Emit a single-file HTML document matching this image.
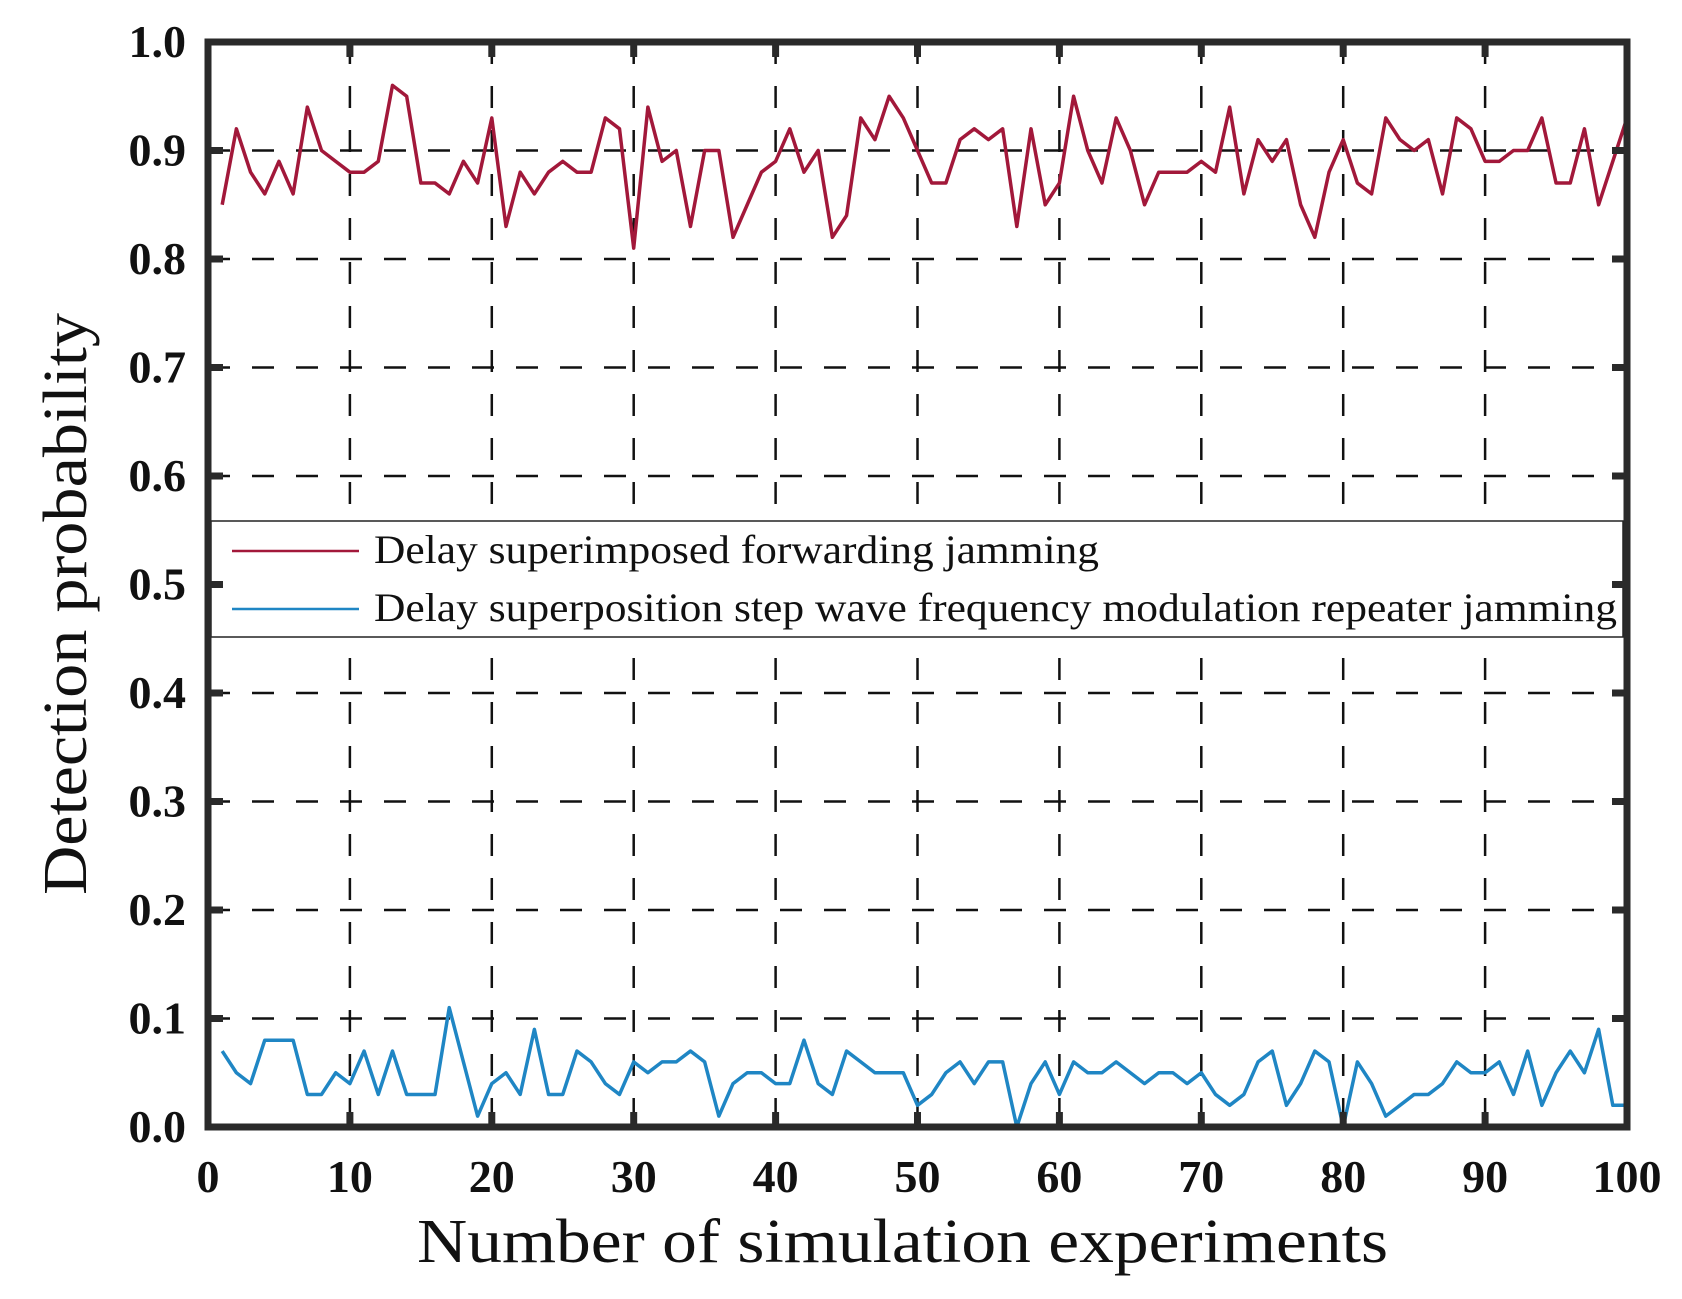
<!DOCTYPE html>
<html><head><meta charset="utf-8"><style>
html,body{margin:0;padding:0;background:#fff;}
svg{display:block;}
</style></head><body>
<svg id="chart" width="1682" height="1299" viewBox="0 0 1682 1299" xmlns="http://www.w3.org/2000/svg"></svg>
<script>
const xTicks=[0,10,20,30,40,50,60,70,80,90,100];
const yTicks=[0,0.1,0.2,0.3,0.4,0.5,0.6,0.7,0.8,0.9,1.0];
const yTickLabels=["0.0","0.1","0.2","0.3","0.4","0.5","0.6","0.7","0.8","0.9","1.0"];
const seriesNames=["Delay superimposed forwarding jamming","Delay superposition step wave frequency modulation repeater jamming"];
const redValues=[0.85,0.92,0.88,0.86,0.89,0.86,0.94,0.90,0.89,0.88,0.88,0.89,0.96,0.95,0.87,0.87,0.86,0.89,0.87,0.93,0.83,0.88,0.86,0.88,0.89,0.88,0.88,0.93,0.92,0.81,0.94,0.89,0.90,0.83,0.90,0.90,0.82,0.85,0.88,0.89,0.92,0.88,0.90,0.82,0.84,0.93,0.91,0.95,0.93,0.90,0.87,0.87,0.91,0.92,0.91,0.92,0.83,0.92,0.85,0.87,0.95,0.90,0.87,0.93,0.90,0.85,0.88,0.88,0.88,0.89,0.88,0.94,0.86,0.91,0.89,0.91,0.85,0.82,0.88,0.91,0.87,0.86,0.93,0.91,0.90,0.91,0.86,0.93,0.92,0.89,0.89,0.90,0.90,0.93,0.87,0.87,0.92,0.85,0.89,0.93];
const blueValues=[0.07,0.05,0.04,0.08,0.08,0.08,0.03,0.03,0.05,0.04,0.07,0.03,0.07,0.03,0.03,0.03,0.11,0.06,0.01,0.04,0.05,0.03,0.09,0.03,0.03,0.07,0.06,0.04,0.03,0.06,0.05,0.06,0.06,0.07,0.06,0.01,0.04,0.05,0.05,0.04,0.04,0.08,0.04,0.03,0.07,0.06,0.05,0.05,0.05,0.02,0.03,0.05,0.06,0.04,0.06,0.06,0.00,0.04,0.06,0.03,0.06,0.05,0.05,0.06,0.05,0.04,0.05,0.05,0.04,0.05,0.03,0.02,0.03,0.06,0.07,0.02,0.04,0.07,0.06,0.00,0.06,0.04,0.01,0.02,0.03,0.03,0.04,0.06,0.05,0.05,0.06,0.03,0.07,0.02,0.05,0.07,0.05,0.09,0.02,0.02];

const NS="http://www.w3.org/2000/svg";
const svg=document.getElementById('chart');
const L=208,R=1627,T=42,B=1127;
const xs=v=>L+(v-0)/(100-0)*(R-L);
const ys=v=>B-(v-0)/(1-0)*(B-T);
function mk(tag,attrs,parent){const e=document.createElementNS(NS,tag);for(const k in attrs)e.setAttribute(k,attrs[k]);(parent||svg).appendChild(e);return e;}

const grid=mk('g',{});


xTicks.slice(1,-1).forEach(t=>{const l=mk('line',{x1:xs(t),x2:xs(t),y1:T,y2:B,stroke:'#111','stroke-width':2.5,'stroke-dasharray':'22,22'},grid);

});
yTicks.slice(1,-1).forEach(t=>{const l=mk('line',{x1:L,x2:R,y1:ys(t),y2:ys(t),stroke:'#111','stroke-width':2.5,'stroke-dasharray':'22,22'},grid);

});

function series(vals,color,name){const p=mk('polyline',{points:vals.map((v,i)=>xs(i+1)+','+ys(v)).join(' '),fill:'none',stroke:color,'stroke-width':3.5,'stroke-linejoin':'round'});

}
series(redValues,'#a2183a','series-delay-forwarding');
series(blueValues,'#1f86c4','series-step-wave-fm');

// legend
const lg=mk('g',{});


mk('rect',{x:211,y:521,width:1412,height:116,fill:'#fff',stroke:'#222','stroke-width':1.5},lg);
const lc=['#a2183a','#1f86c4'],ly=[551,609],lw=[725,1243];
seriesNames.forEach((n,i)=>{const ln=mk('line',{x1:232,x2:359,y1:ly[i],y2:ly[i],stroke:lc[i],'stroke-width':2.5},lg);


const tx=mk('text',{x:374,y:ly[i]+12,'font-family':'Liberation Serif, serif','font-size':40,fill:'#111',textLength:lw[i],lengthAdjust:'spacingAndGlyphs'},lg);tx.textContent=n;

});

// frame and ticks
const fr=mk('rect',{x:L,y:T,width:R-L,height:B-T,fill:'none',stroke:'#2a2a2a','stroke-width':7});


xTicks.forEach(t=>{mk('line',{x1:xs(t),x2:xs(t),y1:B,y2:B-15,stroke:'#2a2a2a','stroke-width':7});mk('line',{x1:xs(t),x2:xs(t),y1:T,y2:T+15,stroke:'#2a2a2a','stroke-width':7});
const tx=mk('text',{x:xs(t),y:1192,'text-anchor':'middle','font-family':'Liberation Serif, serif','font-weight':'bold','font-size':46,fill:'#111'});tx.textContent=t;

});
yTicks.forEach((t,i)=>{mk('line',{x1:L,x2:L+15,y1:ys(t),y2:ys(t),stroke:'#2a2a2a','stroke-width':7});mk('line',{x1:R,x2:R-15,y1:ys(t),y2:ys(t),stroke:'#2a2a2a','stroke-width':7});
const tx=mk('text',{x:186,y:ys(t)+15,'text-anchor':'end','font-family':'Liberation Serif, serif','font-weight':'bold','font-size':46,fill:'#111'});tx.textContent=yTickLabels[i];

});

const xt=mk('text',{x:417,y:1262,'font-family':'Liberation Serif, serif','font-size':62,fill:'#111',textLength:971,lengthAdjust:'spacingAndGlyphs'});xt.textContent='Number of simulation experiments';


const yt=mk('text',{x:-291,y:0,transform:'translate(86,604) rotate(-90)','font-family':'Liberation Serif, serif','font-size':62,fill:'#111',textLength:582,lengthAdjust:'spacingAndGlyphs'});yt.textContent='Detection probability';


</script>
</body></html>
